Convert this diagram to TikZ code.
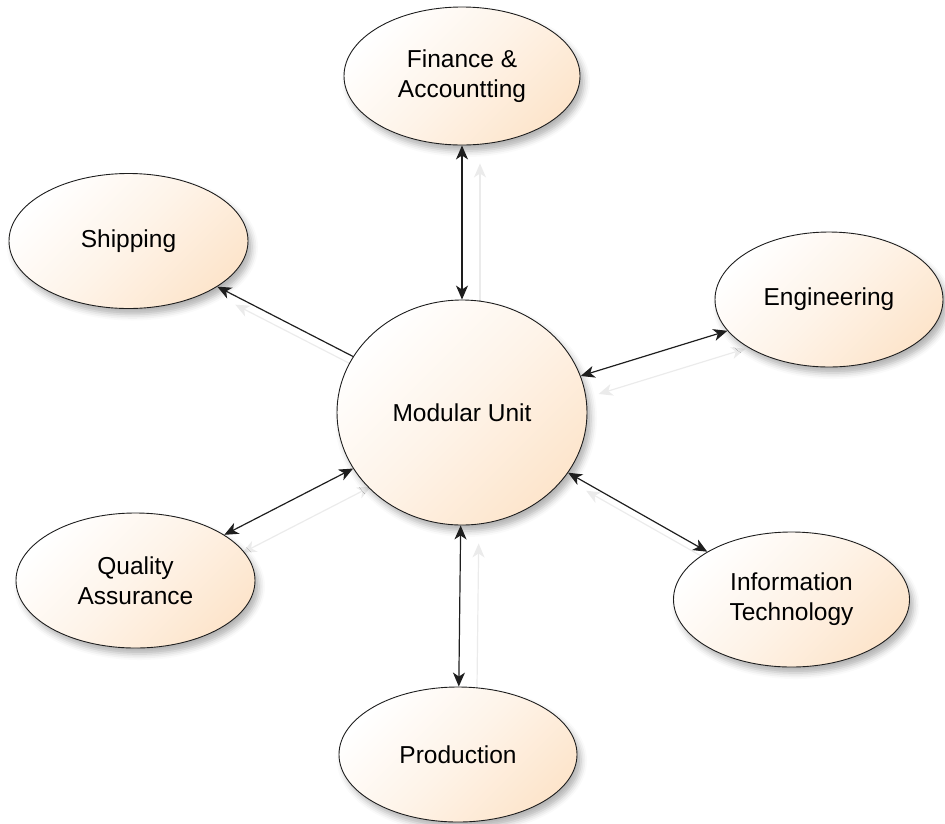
\documentclass[tikz,border=0pt]{standalone}
\usepackage{fontspec}
\setmainfont{Liberation Sans}
\usepackage{tikz}
\usetikzlibrary{arrows.meta,shapes.geometric,shadows.blur,backgrounds}
\usepackage{xcolor}
\definecolor{peach}{RGB}{253,229,204}
\definecolor{inkline}{RGB}{30,30,30}

\begin{document}
\begin{tikzpicture}[
    x=1pt,y=-1pt,
    unit/.style={ellipse,draw=inkline,line width=0.9pt,inner sep=0pt,
        minimum width=236pt,minimum height=135pt,align=center,
        font=\fontsize{24.5}{30}\selectfont,
        top color=white,bottom color=peach,middle color=peach!45,shading angle=45,
        blur shadow={shadow xshift=4pt,shadow yshift=-6pt,shadow blur radius=6pt,shadow opacity=30}},
    link/.style={line width=1.2pt,draw=inkline},
    ghost/.style={line width=1.2pt,draw=black!8,transform canvas={xshift=18pt,yshift=-18pt}},
    >={Stealth[length=14pt,width=12pt,inset=4pt]}
]
\useasboundingbox (0,0) rectangle (945,823);
\node[unit,minimum width=250pt,minimum height=225pt] (mu) at (462,412.5) {Modular Unit};
\node[unit,minimum height=138pt] (fin) at (462,76) {Finance \&\\Accountting};
\node[unit,minimum width=239pt] (ship) at (128.5,241) {Shipping};
\node[unit,minimum width=228pt] (eng) at (829,299.5) {Engineering};
\node[unit,minimum width=239pt] (qa) at (135.5,580.5) {Quality\\Assurance};
\node[unit] (it) at (791.5,599.5) {Information\\Technology};
\node[unit,minimum width=238pt] (prod) at (458,754.5) {Production};
% faint copies of the links, drawn under the shapes
\begin{scope}[on background layer]
\draw[ghost,->] (mu) -- (ship);
\foreach \n in {fin,eng,it,prod,qa} {
    \draw[ghost,<->] (mu) -- (\n);
}
\end{scope}
\draw[link,->] (mu) -- (ship);
\foreach \n in {fin,eng,it,prod,qa} {
    \draw[link,<->] (mu) -- (\n);
}
\end{tikzpicture}
\end{document}
